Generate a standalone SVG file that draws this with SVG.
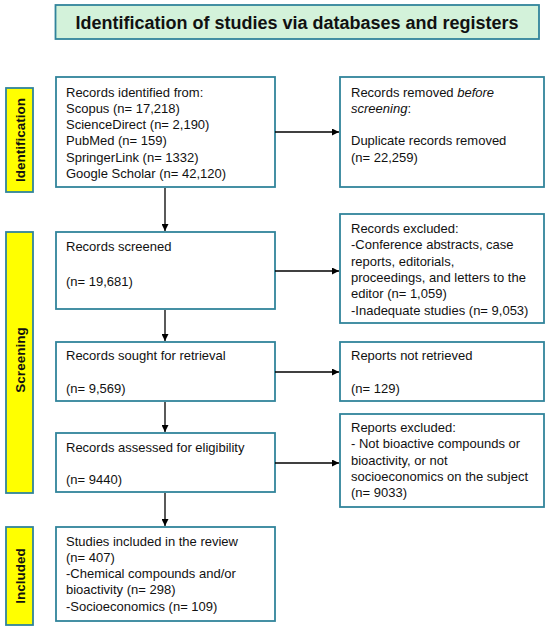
<svg xmlns="http://www.w3.org/2000/svg" width="550" height="632" viewBox="0 0 550 632">
<defs>
<marker id="ah" viewBox="0 0 10 10" refX="10" refY="5" markerWidth="7" markerHeight="7" markerUnits="userSpaceOnUse" orient="auto">
<path d="M0,0 L10,5 L0,10 z" fill="#000"/>
</marker>
<style>
.box{fill:#fff;stroke:#31849b;stroke-width:1.8}
.lab{fill:#ffff00;stroke:#31849b;stroke-width:1.8}
.ttl{fill:#d3f2da;stroke:#31849b;stroke-width:1.8}
text{font-family:"Liberation Sans",Arial,sans-serif;font-size:13px;fill:#111}
.t{font-size:18px;font-weight:bold;text-anchor:middle}
.v{font-size:13.5px;font-weight:bold;text-anchor:middle}
.c{stroke:#000;stroke-width:1.3;fill:none;marker-end:url(#ah)}
</style>
</defs>
<rect width="550" height="632" fill="#fff"/>
<g id="title">
<rect class="ttl" x="55.5" y="5" width="483.5" height="34"/>
<text class="t" x="297" y="28.5">Identification of studies via databases and registers</text>
</g>
<g id="label-identification">
<rect class="lab" x="6" y="88" width="27" height="104"/>
<text class="v" transform="translate(24.5,140) rotate(-90)">Identification</text>
</g>
<g id="label-screening">
<rect class="lab" x="6" y="232" width="27" height="261"/>
<text class="v" transform="translate(24.5,360) rotate(-90)">Screening</text>
</g>
<g id="label-included">
<rect class="lab" x="6" y="527" width="27" height="98"/>
<text class="v" transform="translate(24.5,576) rotate(-90)">Included</text>
</g>
<g id="records-identified">
<rect class="box" x="56" y="77" width="219" height="110"/>
<text x="66" y="96.5">Records identified from:</text>
<text x="66" y="112.8">Scopus (n=  17,218)</text>
<text x="66" y="129.1">ScienceDirect (n= 2,190)</text>
<text x="66" y="145.4">PubMed (n= 159)</text>
<text x="66" y="161.7">SpringerLink (n= 1332)</text>
<text x="66" y="178">Google Scholar (n= 42,120)</text>
</g>
<g id="records-removed">
<rect class="box" x="340" y="77" width="204" height="110"/>
<text x="351" y="96.5">Records removed <tspan font-style="italic">before</tspan></text>
<text x="351" y="112.8"><tspan font-style="italic">screening</tspan>:</text>
<text x="351" y="145.4">Duplicate records removed</text>
<text x="351" y="161.7">(n= 22,259)</text>
</g>
<g id="records-screened">
<rect class="box" x="56" y="232" width="219" height="77"/>
<text x="66" y="251">Records screened</text>
<text x="66" y="286">(n= 19,681)</text>
</g>
<g id="records-excluded">
<rect class="box" x="340" y="214" width="204" height="109"/>
<text x="351" y="233">Records excluded:</text>
<text x="351" y="249.3">-Conference abstracts, case</text>
<text x="351" y="265.6">reports, editorials,</text>
<text x="351" y="282">proceedings, and letters to the</text>
<text x="351" y="298.3">editor (n= 1,059)</text>
<text x="351" y="314.6">-Inadequate studies (n= 9,053)</text>
</g>
<g id="records-sought">
<rect class="box" x="56" y="342" width="219" height="59"/>
<text x="66" y="359.5">Records sought for retrieval</text>
<text x="66" y="393">(n= 9,569)</text>
</g>
<g id="reports-not-retrieved">
<rect class="box" x="340" y="342" width="204" height="59"/>
<text x="351" y="359.5">Reports not retrieved</text>
<text x="351" y="393">(n= 129)</text>
</g>
<g id="records-assessed">
<rect class="box" x="56" y="433" width="219" height="59"/>
<text x="66" y="452">Records assessed for eligibility</text>
<text x="66" y="484">(n= 9440)</text>
</g>
<g id="reports-excluded">
<rect class="box" x="340" y="414" width="204" height="93"/>
<text x="351" y="432">Reports excluded:</text>
<text x="351" y="448.3">- Not bioactive compounds or</text>
<text x="351" y="464.6">bioactivity, or not</text>
<text x="351" y="481">socioeconomics on the subject</text>
<text x="351" y="497.3">(n= 9033)</text>
</g>
<g id="studies-included">
<rect class="box" x="56" y="527" width="219" height="94"/>
<text x="66" y="546">Studies included in the review</text>
<text x="66" y="562">(n= 407)</text>
<text x="66" y="578">-Chemical compounds and/or</text>
<text x="66" y="594">bioactivity (n= 298)</text>
<text x="66" y="611">-Socioeconomics (n= 109)</text>
</g>
<g id="connectors">
<line class="c" x1="275" y1="132" x2="339" y2="132"/>
<line class="c" x1="275" y1="271" x2="339" y2="271"/>
<line class="c" x1="275" y1="372" x2="339" y2="372"/>
<line class="c" x1="275" y1="463" x2="339" y2="463"/>
<line class="c" x1="165" y1="188" x2="165" y2="231"/>
<line class="c" x1="165" y1="310" x2="165" y2="341"/>
<line class="c" x1="165" y1="402" x2="165" y2="432"/>
<line class="c" x1="165" y1="493" x2="165" y2="526"/>
</g>
</svg>
